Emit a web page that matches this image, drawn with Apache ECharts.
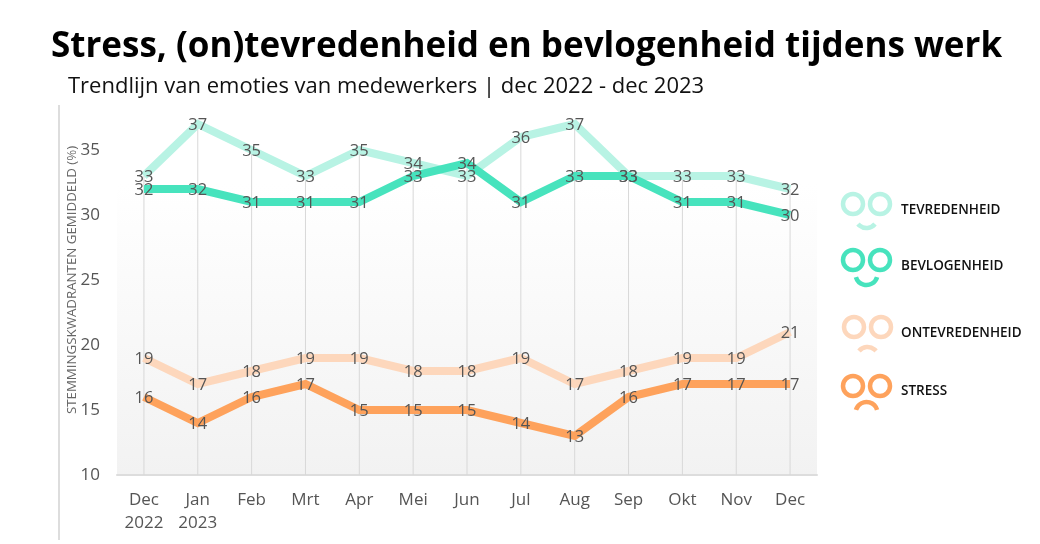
<!DOCTYPE html>
<html><head><meta charset="utf-8">
<style>html,body{margin:0;padding:0;background:#fff}#c{width:1040px;height:544px}</style>
<script src="https://cdn.jsdelivr.net/npm/echarts@6/dist/echarts.min.js"></script>
</head><body><div id="c"></div>
<script>
const categories=['Dec\n2022','Jan\n2023','Feb','Mrt','Apr','Mei','Jun','Jul','Aug','Sep','Okt','Nov','Dec'];
const tevredenheid=[33,37,35,33,35,34,33,36,37,33,33,33,32];
const bevlogenheid=[32,32,31,31,31,33,34,31,33,33,31,31,30];
const ontevredenheid=[19,17,18,19,19,18,18,19,17,18,19,19,21];
const stress=[16,14,16,17,15,15,15,14,13,16,17,17,17];
const droplines=tevredenheid.map((v,i)=>Math.max(v,bevlogenheid[i]));
const FONT='"Open Sans"';
const mk=(name,data,color)=>({name,type:'line',data,symbol:'circle',symbolSize:0,showSymbol:true,z:3,
  lineStyle:{color,width:8,join:'miter'},itemStyle:{color},
  label:{show:true,position:'inside',color:'#555',fontFamily:FONT,fontSize:16.5,offset:[0,1]},
  animation:false});
const face=(cx,cy,color,arcCy,ang,happy)=>{
  const out=[];
  for(const dx of [-13.5,13.5]) out.push({type:'circle',shape:{cx:cx+dx,cy,r:10},style:{fill:'none',stroke:color,lineWidth:4.5}});
  const a=happy?{cx,cy:arcCy,r:11,startAngle:ang,endAngle:Math.PI-ang}:{cx,cy:arcCy,r:11,startAngle:Math.PI+ang,endAngle:-ang};
  out.push({type:'arc',shape:a,style:{fill:'none',stroke:color,lineWidth:4.5,lineCap:'butt'}});
  return out;
};
const ltext=(x,y,t)=>({type:'text',x,y,style:{text:t,fill:'#111',font:'600 13.5px '+FONT,textVerticalAlign:'middle'}});
const chart=echarts.init(document.getElementById('c'),null,{renderer:'canvas'});
chart.setOption({
  animation:false,
  backgroundColor:'#fff',
  title:[
    {text:'Stress, (on)tevredenheid en bevlogenheid tijdens werk',left:51,top:30,padding:0,
     textStyle:{fontFamily:FONT,fontWeight:'bold',fontSize:35,color:'#000'}},
    {text:'Trendlijn van emoties van medewerkers | dec 2022 - dec 2023',left:68,top:76,padding:0,
     textStyle:{fontFamily:FONT,fontWeight:'normal',fontSize:22,color:'#111'}}
  ],
  grid:{left:117,top:111,width:700,height:364,show:true,borderWidth:0,
    backgroundColor:new echarts.graphic.LinearGradient(0,0,0,1,[{offset:0,color:'#ffffff'},{offset:0.2,color:'#ffffff'},{offset:1,color:'#f2f2f2'}])},
  xAxis:{type:'category',data:categories,boundaryGap:true,
    axisLine:{show:true,lineStyle:{color:'#ddd',width:2}},axisTick:{show:false},splitLine:{show:false},
    axisLabel:{color:'#555',fontFamily:FONT,fontSize:17,lineHeight:23,margin:14,interval:0}},
  yAxis:{type:'value',min:10,max:38,interval:5,
    name:'STEMMINGSKWADRANTEN GEMIDDELD (%)',nameLocation:'middle',nameGap:38,nameRotate:90,nameMoveOverlap:false,
    nameTextStyle:{color:'#666',fontFamily:FONT,fontSize:13.3,padding:[0,0,0,26]},
    axisLine:{show:false},axisTick:{show:false},splitLine:{show:false},
    axisLabel:{color:'#555',fontFamily:FONT,fontSize:17,margin:17,showMaxLabel:false}},
  series:[
    {name:'drop',type:'bar',data:droplines,barWidth:1,itemStyle:{color:'#d8d8d8'},z:1,silent:true,label:{show:false}},
    mk('Tevredenheid',tevredenheid,'#b8f3e4'),
    mk('Bevlogenheid',bevlogenheid,'#47e3bd'),
    mk('Ontevredenheid',ontevredenheid,'#fdd7bc'),
    mk('Stress',stress,'#fea25c')
  ],
  graphic:[
    {type:'line',shape:{x1:59,y1:105,x2:59,y2:540},style:{stroke:'#ddd',lineWidth:2}},
    ...face(866.5,204,'#b8f3e4',217,0.69,true),ltext(901,210,'TEVREDENHEID'),
    ...face(866.5,260,'#47e3bd',274,0.28,true),ltext(901,266,'BEVLOGENHEID'),
    ...face(867.5,327,'#fdd7bc',358,0.69,false),ltext(901,333,'ONTEVREDENHEID'),
    ...face(866.5,386,'#fea25c',413,0.28,false),ltext(901,391,'STRESS')
  ]
});
</script></body></html>
